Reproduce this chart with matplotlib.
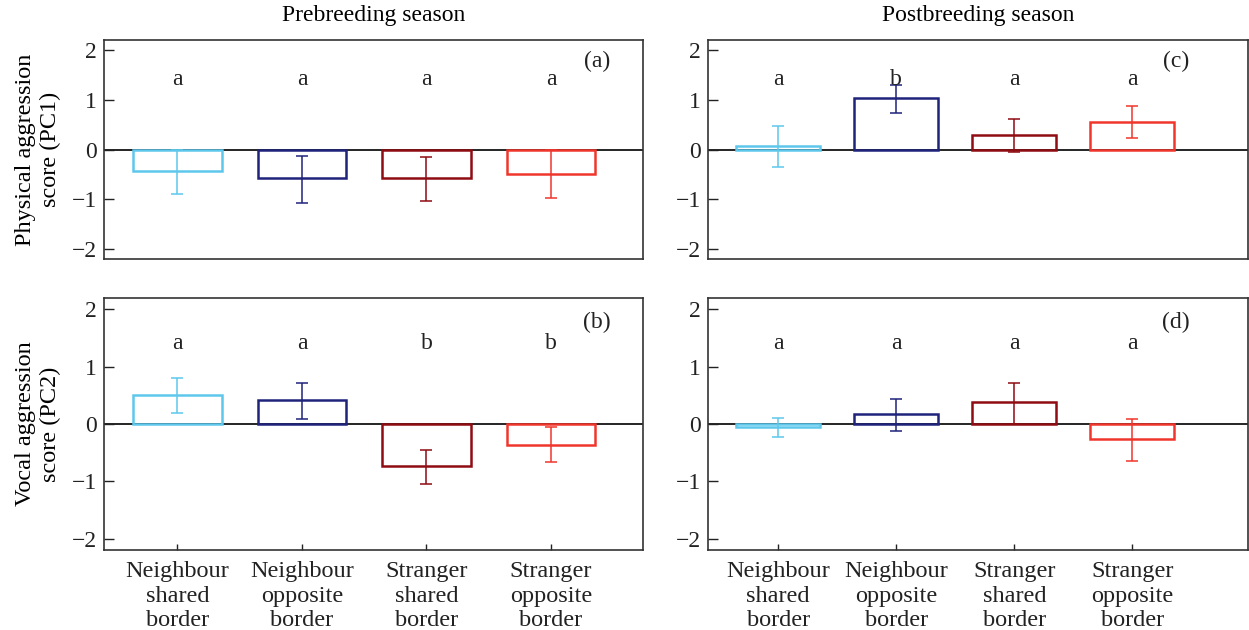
import numpy as np
import matplotlib
matplotlib.use("Agg")
import matplotlib.pyplot as plt

plt.rcParams['font.family'] = ['Liberation Serif', 'DejaVu Serif']
plt.rcParams['axes.unicode_minus'] = True

categories = ["Neighbour\nshared\nborder", "Neighbour\nopposite\nborder",
              "Stranger\nshared\nborder", "Stranger\nopposite\nborder"]
colors = ['#5ec8ec', '#1f237a', '#8e0c12', '#f0362c']

# panel (a) prebreeding, PC1
pre_pc1 = [-0.43, -0.57, -0.57, -0.50]
pre_pc1_lo = [-0.90, -1.07, -1.04, -0.97]
pre_pc1_hi = [0.0, -0.13, -0.15, 0.0]
pre_pc1_letters = ['a', 'a', 'a', 'a']

# panel (b) prebreeding, PC2
pre_pc2 = [0.51, 0.42, -0.73, -0.36]
pre_pc2_lo = [0.20, 0.09, -1.04, -0.67]
pre_pc2_hi = [0.81, 0.71, -0.46, -0.05]
pre_pc2_letters = ['a', 'a', 'b', 'b']

# panel (c) postbreeding, PC1
post_pc1 = [0.07, 1.03, 0.29, 0.55]
post_pc1_lo = [-0.36, 0.74, -0.06, 0.24]
post_pc1_hi = [0.48, 1.29, 0.61, 0.87]
post_pc1_letters = ['a', 'b', 'a', 'a']

# panel (d) postbreeding, PC2
post_pc2 = [-0.06, 0.18, 0.38, -0.27]
post_pc2_lo = [-0.23, -0.13, 0.0, -0.64]
post_pc2_hi = [0.10, 0.43, 0.72, 0.09]
post_pc2_letters = ['a', 'a', 'a', 'a']

W, H = 1249, 630
fig = plt.figure(figsize=(W / 100, H / 100), dpi=100)


def add_ax(l, r, t, b):
    return fig.add_axes([l / W, 1 - b / H, (r - l) / W, (b - t) / H])


ax_a = add_ax(104, 643, 40, 259)
ax_b = add_ax(104, 643, 298, 550)
ax_c = add_ax(708, 1248, 40, 259)
ax_d = add_ax(708, 1248, 298, 550)

panels = [
    (ax_a, pre_pc1, pre_pc1_lo, pre_pc1_hi, pre_pc1_letters, '(a)', (0.41, 4.74)),
    (ax_b, pre_pc2, pre_pc2_lo, pre_pc2_hi, pre_pc2_letters, '(b)', (0.41, 4.74)),
    (ax_c, post_pc1, post_pc1_lo, post_pc1_hi, post_pc1_letters, '(c)', (0.405, 4.98)),
    (ax_d, post_pc2, post_pc2_lo, post_pc2_hi, post_pc2_letters, '(d)', (0.405, 4.98)),
]

x = np.arange(1, 5)
for ax, means, lo, hi, letters, tag, xl in panels:
    means = np.array(means)
    lo = np.array(lo)
    hi = np.array(hi)
    ax.axhline(0, color='black', lw=1.2, zorder=1)
    for i in range(4):
        ax.bar(x[i], means[i], width=0.71, facecolor='none',
               edgecolor=colors[i], linewidth=1.8, zorder=2)
        ax.errorbar(x[i], means[i], yerr=[[means[i] - lo[i]], [hi[i] - means[i]]],
                    fmt='none', ecolor=colors[i], elinewidth=1.1,
                    capsize=4.5, capthick=1.1, zorder=3)
        ax.text(x[i], 1.40, letters[i], ha='center', va='center', fontsize=17,
                color='#222222')
    ax.text(4.37, 1.77, tag, ha='center', va='center', fontsize=17, color='#222222')
    ax.set_xlim(*xl)
    ax.set_ylim(-2.2, 2.2)
    ax.set_yticks([-2, -1, 0, 1, 2])
    ax.set_yticklabels(['\u22122', '\u22121', '0', '1', '2'])
    ax.set_xticks(x)
    ax.tick_params(axis='y', direction='in', length=7, width=1, labelsize=17,
                   pad=5, colors='#222222')
    ax.tick_params(axis='x', direction='in', length=4, width=1, colors='#222222')
    for s in ax.spines.values():
        s.set_color('#333333')
        s.set_linewidth(1.2)

for ax in (ax_a, ax_c):
    ax.set_xticks([])
for ax in (ax_b, ax_d):
    ax.set_xticklabels(categories, fontsize=17.5, linespacing=1.22)
    ax.tick_params(axis='x', pad=8)

ax_a.set_title('Prebreeding season', fontsize=17, pad=14)
ax_c.set_title('Postbreeding season', fontsize=17, pad=14)
ax_a.set_ylabel('Physical aggression\nscore (PC1)', fontsize=17.5, linespacing=1.2,
                labelpad=8)
ax_b.set_ylabel('Vocal aggression\nscore (PC2)', fontsize=17.5, linespacing=1.2,
                labelpad=8)

fig.savefig('out.png', dpi=100)
